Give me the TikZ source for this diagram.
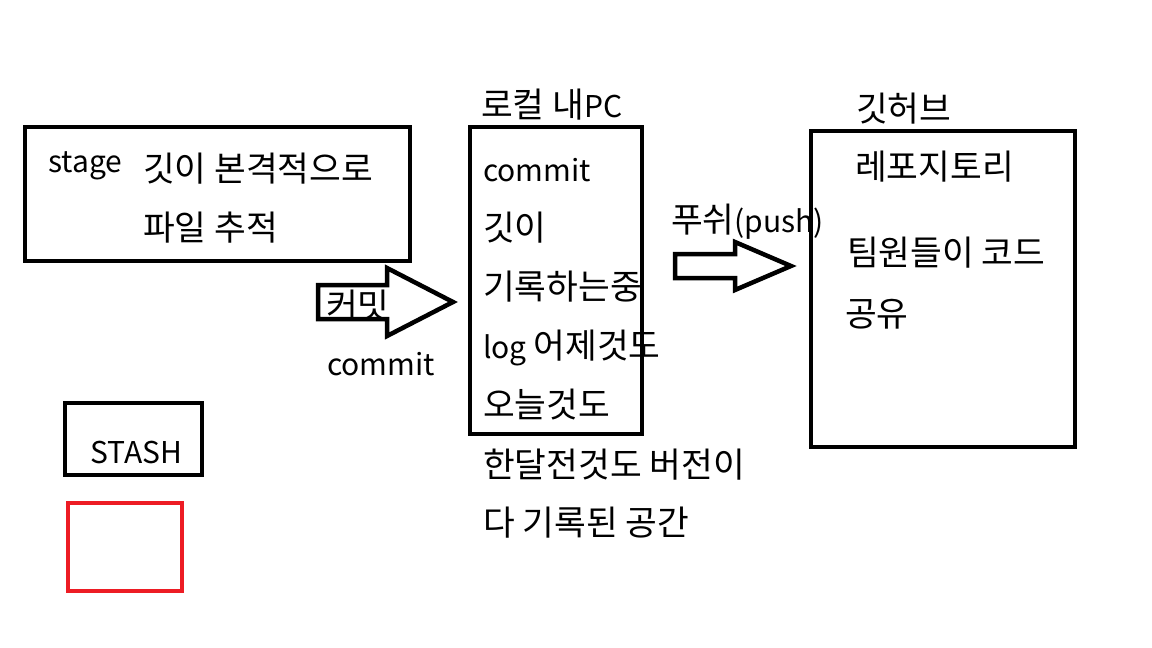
\documentclass[tikz,border=0pt]{standalone}
\usepackage{fontspec}
\setmainfont{Noto Sans CJK KR}
\definecolor{paintred}{HTML}{ED1C24}
\newcommand\hg[1]{{\fontsize{34.5}{40}\selectfont #1}}
\begin{document}
\begin{tikzpicture}[x=1pt,y=-1pt,
  panel/.style={draw=black,line width=4.5pt,inner sep=0pt,fill=none},
  redpanel/.style={draw=paintred,line width=4.5pt,inner sep=0pt},
  blockarrow/.style={draw=black,fill=white,line width=4.5pt,line join=miter},
  lbl/.style={anchor=base west,inner sep=0pt,font=\fontsize{30}{36}\selectfont}]
\useasboundingbox[fill=white] (0,0) rectangle (1152,648);
% boxes
\node[panel,minimum width=385pt,minimum height=134pt] (stage) at (217.5,194) {};
\node[panel,minimum width=172pt,minimum height=307pt] (local) at (556,280.5) {};
\node[panel,minimum width=264pt,minimum height=316pt] (github) at (943,289) {};
\node[panel,minimum width=137pt,minimum height=72pt] (stash) at (133.5,439) {};
\node[redpanel,minimum width=114pt,minimum height=88pt] (redbox) at (125,547) {};
% block arrows
\draw[blockarrow] (318,285) -- (387,285) -- (387,268) -- (453,302) -- (387,336) -- (387,319) -- (318,319) -- cycle;
\draw[blockarrow] (675,254) -- (735,254) -- (735,242) -- (791,266) -- (735,290) -- (735,278) -- (675,278) -- cycle;
% stage texts
\node[lbl] (tstage) at (48,172) {stage};
\node[lbl] (ts1) at (143,181) {\hg{깃이 본격적으로}};
\node[lbl] (ts2) at (143,240) {\hg{파일 추적}};
% commit arrow labels
\node[lbl] (tcommitk) at (326,318) {\hg{커밋}};
\node[lbl] (tcommit) at (327,375) {commit};
% local
\node[lbl] (tlocal) at (481,117) {\hg{로컬 내}PC};
\node[lbl] (tl1) at (483,181) {commit};
\node[lbl] (tl2) at (483,240) {\hg{깃이}};
\node[lbl] (tl3) at (483,299) {\hg{기록하는중}};
\node[lbl] (tl4) at (483,358) {log \hg{어제것도}};
\node[lbl] (tl5) at (483,417) {\hg{오늘것도}};
\node[lbl] (tl6) at (483,477) {\hg{한달전것도 버전이}};
\node[lbl] (tl7) at (483,535) {\hg{다 기록된 공간}};
% push
\node[lbl] (tpush) at (671,232) {\hg{푸쉬}(push)};
% github
\node[lbl] (tgh) at (856,121) {\hg{깃허브}};
\node[lbl] (tg1) at (855,179) {\hg{레포지토리}};
\node[lbl] (tg2) at (847,265) {\hg{팀원들이 코드}};
\node[lbl] (tg3) at (845,326) {\hg{공유}};
% stash
\node[lbl] (tstash) at (90,463) {STASH};
\end{tikzpicture}
\end{document}
